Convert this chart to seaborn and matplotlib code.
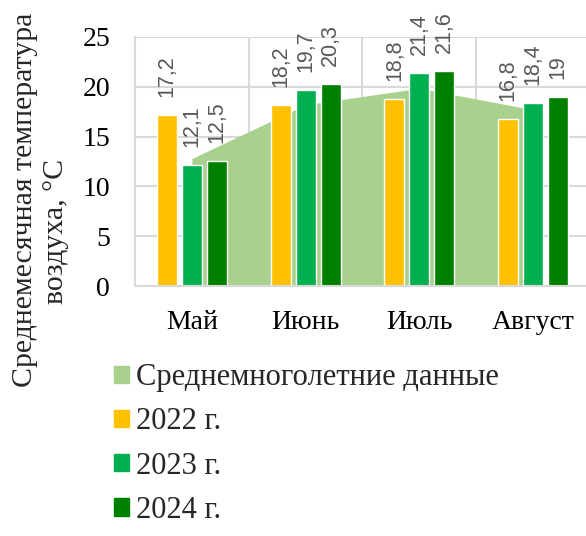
import pandas as pd
import numpy as np
import matplotlib
matplotlib.use('Agg')
import matplotlib.pyplot as plt
import seaborn as sns
from matplotlib.patches import Patch

months = ['Май', 'Июнь', 'Июль', 'Август']
years = ['2022 г.', '2023 г.', '2024 г.']
t2022 = [17.2, 18.2, 18.8, 16.8]
t2023 = [12.1, 19.7, 21.4, 18.4]
t2024 = [12.5, 20.3, 21.6, 19.0]
longterm = [12.8, 18.2, 19.85, 17.7]
area_name = 'Среднемноголетние данные'

colors = ['#ffc000', '#00b050', '#008000']
area_col = '#a9d18e'
grid_col = '#d9d9d9'

sns.set_theme(style='white')
plt.rcParams['font.family'] = ['Liberation Serif', 'DejaVu Serif']

df = pd.DataFrame({
    'month': months * 3,
    'year': [years[0]] * 4 + [years[1]] * 4 + [years[2]] * 4,
    'temp': t2022 + t2023 + t2024,
})

fig = plt.figure(figsize=(5.86, 5.36), dpi=100)
ax = fig.add_axes([0.2304, 0.4664, 0.7764, 0.4646])

ax.fill_between(np.arange(len(months)), longterm, 0, color=area_col, lw=0, zorder=1)

sns.barplot(data=df, x='month', y='temp', hue='year', order=months, hue_order=years,
            palette=colors, width=0.658, gap=0.2, saturation=1, legend=False, ax=ax, zorder=2)

for cont in ax.containers:
    labs = [('%g' % b.get_height()).replace('.', ',') for b in cont]
    ax.bar_label(cont, labels=labs, rotation=90, padding=13, fontsize=15.5,
                 color='#595959', family='Liberation Sans')

ax.set_xlim(-0.5, 3.5)
ax.set_ylim(0, 25)
ax.set_yticks(range(0, 26, 5))
ax.set_xticks(np.arange(-0.5, 4, 1), minor=True)
ax.grid(True, which='major', axis='y', color=grid_col, lw=1.5, zorder=0)
ax.grid(True, which='minor', axis='x', color=grid_col, lw=1.5, zorder=0)
ax.set_axisbelow(True)
for s in ['top', 'right']:
    ax.spines[s].set_visible(False)
for s in ['left', 'bottom']:
    ax.spines[s].set_color(grid_col)
    ax.spines[s].set_linewidth(1.5)
ax.tick_params(axis='both', which='both', length=0, labelsize=20, colors='black')
ax.tick_params(axis='x', pad=17)
ax.tick_params(axis='y', pad=18)
ax.set_xlabel('')
ax.set_ylabel('')

fig.text(25 / 586, 1 - 200 / 536, 'Среднемесячная температура', rotation=90,
         ha='center', va='center', fontsize=21.5)
fig.text(56 / 586, 1 - 231 / 536, 'воздуха, °C', rotation=90,
         ha='center', va='center', fontsize=21.5)

handles = [Patch(color=area_col)] + [Patch(color=c) for c in colors]
fig.legend(handles, [area_name] + years, loc='upper left', bbox_to_anchor=(114 / 586, 1 - 363 / 536),
           frameon=False, fontsize=22, handlelength=0.49, handleheight=0.49, handletextpad=0.23,
           labelspacing=0.5, borderaxespad=0, borderpad=0)

fig.savefig('out.png', dpi=100)
